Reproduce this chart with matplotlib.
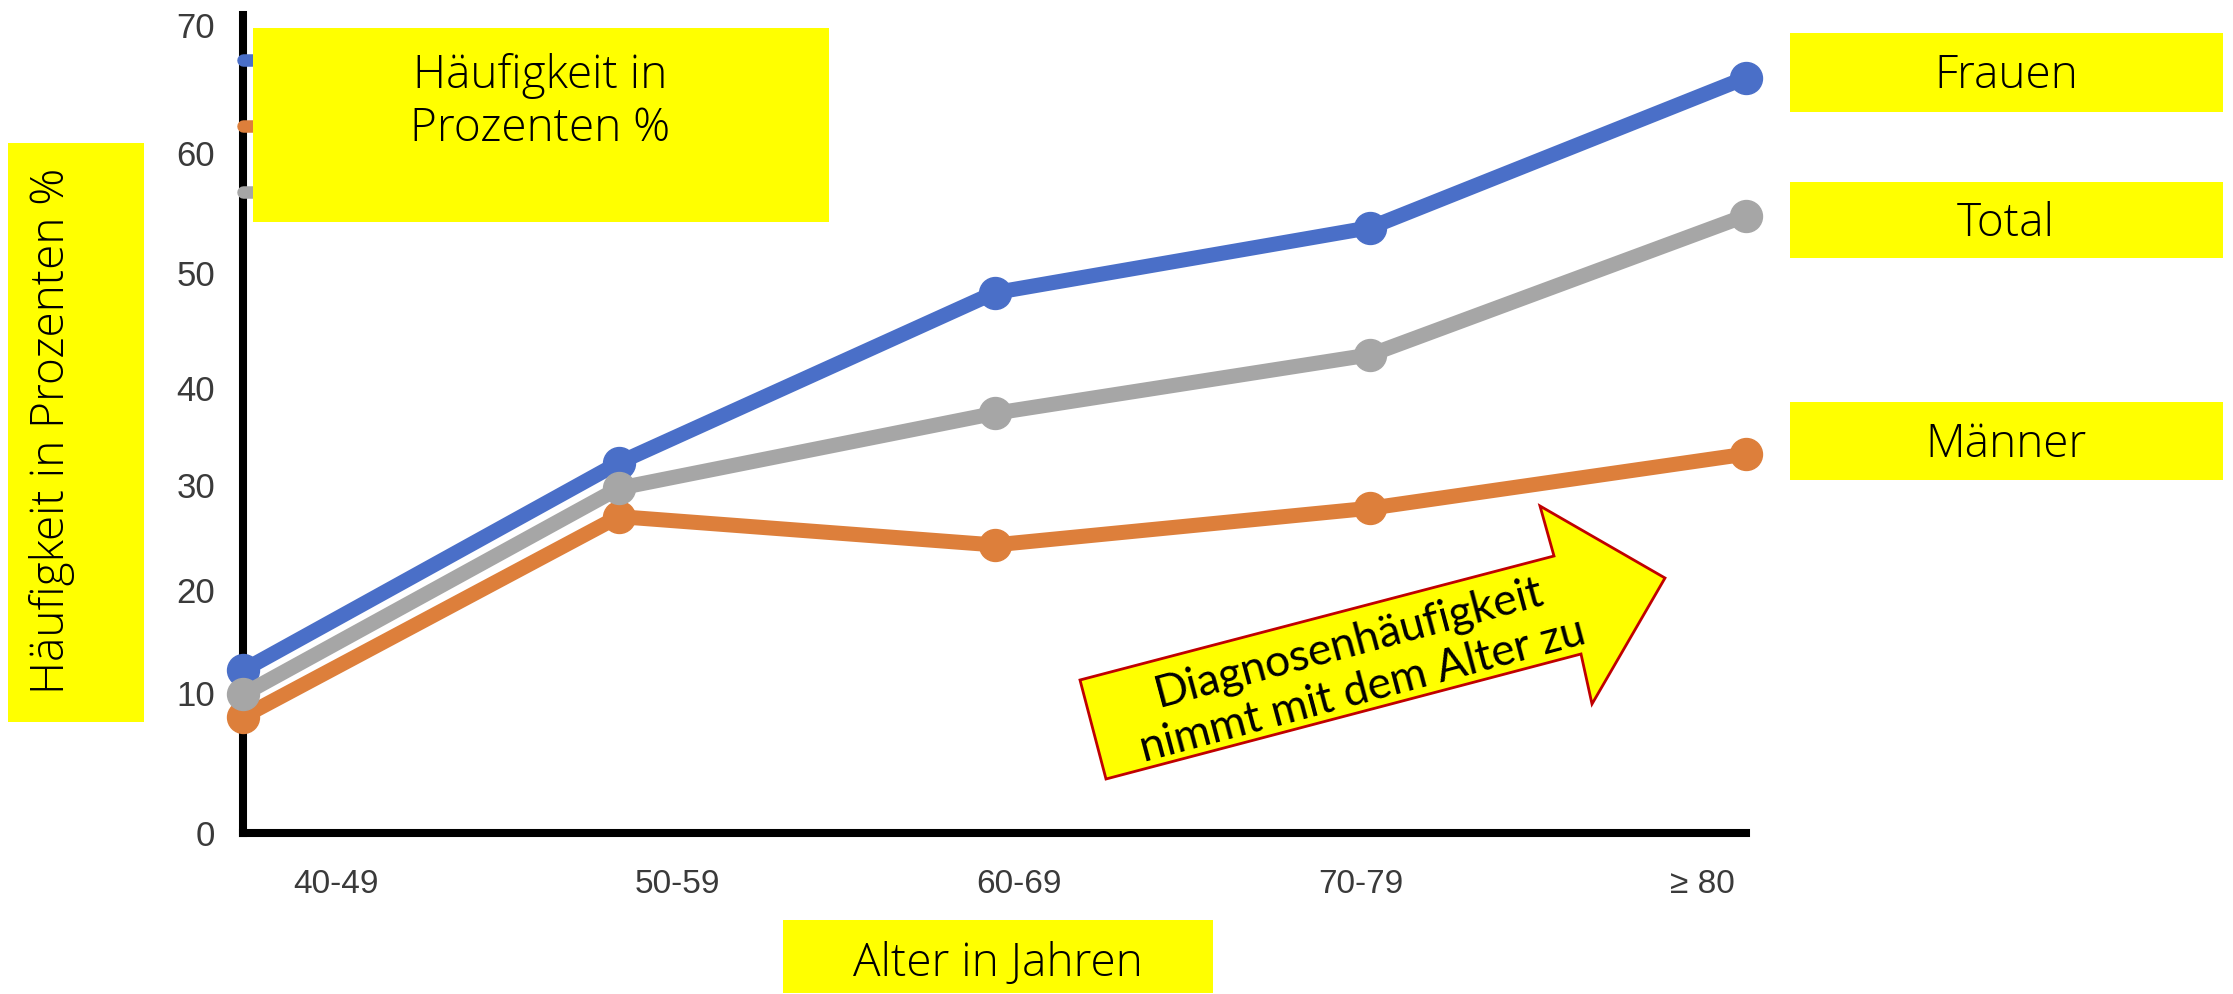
import numpy as np
import matplotlib.pyplot as plt
from matplotlib.patches import Rectangle, Polygon
from matplotlib.lines import Line2D

# data
age_groups = ['40-49', '50-59', '60-69', '70-79', '≥ 80']
frauen = [12.2, 32.3, 48.3, 53.8, 65.9]
maenner = [8.3, 27.0, 24.3, 27.8, 33.2]
total = [9.9, 29.7, 37.4, 42.9, 54.8]
y_ticks = [0, 10, 20, 30, 40, 50, 60, 70]

# layout of the original (pixels of a 2233x994 image)
W, H = 2233, 994
tick_px = [833, 693, 590, 485, 388, 273, 153, 25]   # the y axis is not evenly spaced
xlabel_px = [336, 677.5, 1019, 1360.5, 1702]
x0_px, x4_px = 243, 1746


def fx(x):
    return x / W


def fy(y):
    return 1 - y / H


# piecewise linear y scale, so the marks land where the irregular ticks are
pos = [tick_px[0] - p for p in tick_px]
vals = [-10] + y_ticks + [80]
pos = [-140] + pos + [pos[-1] + 128]


def forward(v):
    return np.interp(v, vals, pos)


def inverse(p):
    return np.interp(p, pos, vals)


fig = plt.figure(figsize=(22.33, 9.94), dpi=100)
ax = fig.add_axes([fx(x0_px), fy(833), (x4_px - x0_px) / W, (833 - 15) / H])
ax.set_yscale('function', functions=(forward, inverse))

blue, orange, gray = '#4a6fc8', '#dd7f3b', '#a6a6a6'
x = np.arange(len(age_groups))
for vals_, c in [(frauen, blue), (maenner, orange), (total, gray)]:
    ax.plot(x, vals_, color=c, lw=10.8, marker='o', markersize=23,
            solid_capstyle='round', clip_on=False, zorder=3)

ax.set_xlim(0, 4)
ax.set_ylim(0, 70.8)
ax.set_yticks(y_ticks)
ax.set_yticklabels([str(t) for t in y_ticks])
ax.set_xticks([(p - x0_px) / (x4_px - x0_px) * 4 for p in xlabel_px])
ax.set_xticklabels(age_groups)
ax.tick_params(axis='y', length=0, pad=20, labelsize=25, labelcolor='#3a3a3a')
ax.tick_params(axis='x', length=0, pad=26, labelsize=24, labelcolor='#3a3a3a')
for t in ax.get_xticklabels() + ax.get_yticklabels():
    t.set_family('Liberation Sans')
ax.spines['top'].set_visible(False)
ax.spines['right'].set_visible(False)
ax.spines['left'].set_linewidth(5.8)
ax.spines['bottom'].set_linewidth(5.8)

# legend keys, the labels are covered by the yellow box in the original
handles = [Line2D([], [], color=c, lw=9, solid_capstyle='round') for c in (blue, orange, gray)]
ax.legend(handles, [' ', ' ', ' '], loc='upper left',
          bbox_to_anchor=(fx(243), fy(46)), bbox_transform=fig.transFigure,
          frameon=False, borderpad=0, borderaxespad=0, handlelength=1.5,
          fontsize=24, labelspacing=0.99)

light = dict(family='Open Sans', weight='light', color='black', fontsize=33, zorder=11)
cap_half = 16  # half cap height in px, to centre capitals in the boxes


def yellow_box(x1, y1, x2, y2):
    fig.add_artist(Rectangle((fx(x1), fy(y2)), (x2 - x1) / W, (y2 - y1) / H,
                             transform=fig.transFigure, facecolor='#ffff00',
                             edgecolor='none', zorder=10))


yellow_box(253, 28, 829, 222)
fig.text(fx(540), fy(102), 'Häufigkeit in\nProzenten %', ha='center', va='center',
         linespacing=1.2, **light)

yellow_box(8, 143, 144, 722)
fig.text(fx(52), fy(431), 'Häufigkeit in Prozenten %', ha='center', va='center',
         rotation=90, **light)

for label, y1, y2 in [('Frauen', 33, 112), ('Total', 182, 258), ('Männer', 402, 480)]:
    yellow_box(1790, y1, 2223, y2)
    fig.text(fx(2006), fy((y1 + y2) / 2 + cap_half), label, ha='center', va='baseline', **light)

yellow_box(783, 920, 1213, 993)
fig.text(fx(998), fy(960 + cap_half), 'Alter in Jahren', ha='center', va='baseline', **light)

# the arrow
arrow_px = [(1080, 680), (1554, 556), (1540, 506), (1665, 578),
            (1592, 704), (1581, 654), (1106, 779)]
fig.add_artist(Polygon([(fx(a), fy(b)) for a, b in arrow_px], closed=True,
                       transform=fig.transFigure, facecolor='#ffff00',
                       edgecolor='#c00000', lw=2, zorder=10))
fig.text(fx(1356), fy(667), 'Diagnosenhäufigkeit\nnimmt mit dem Alter zu',
         ha='center', va='center', rotation=15, rotation_mode='anchor',
         family='Lato', fontsize=32, linespacing=1.25, color='black', zorder=11)

fig.savefig('out.png', dpi=100)
